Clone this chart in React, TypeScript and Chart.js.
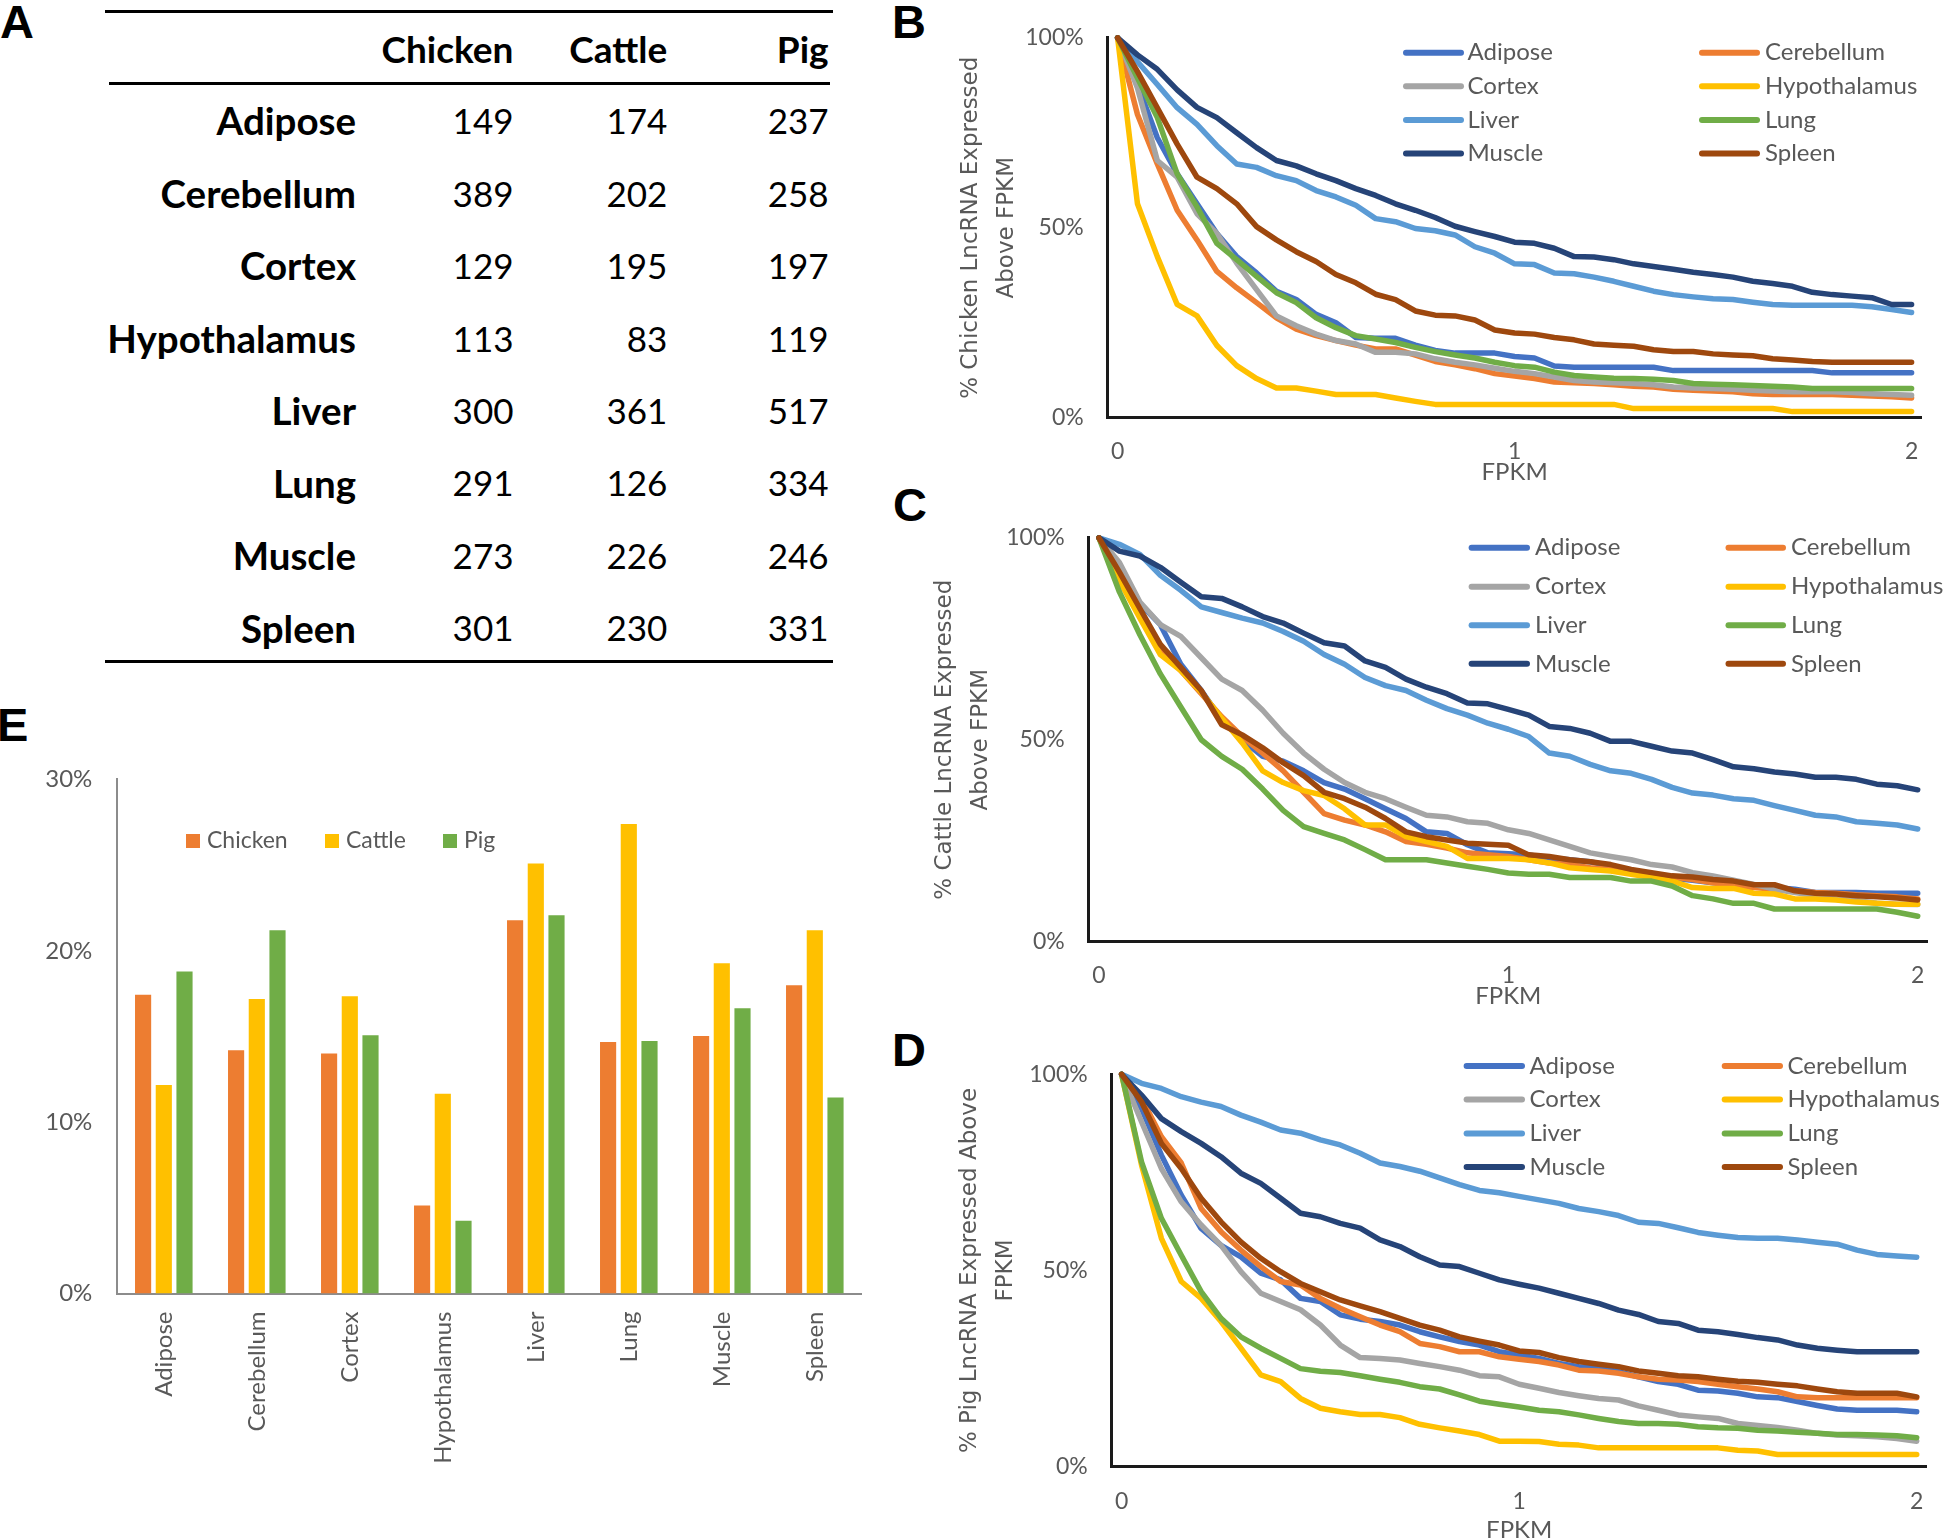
import React, { useEffect, useRef } from 'react';
import { Chart, registerables } from 'chart.js';

Chart.register(...registerables);

// ---------------- data ----------------
const TISSUES = ['Adipose', 'Cerebellum', 'Cortex', 'Hypothalamus', 'Liver', 'Lung', 'Muscle', 'Spleen'];
const TISSUE_COLORS = ['#4472C4', '#ED7D31', '#A5A5A5', '#FFC000', '#5B9BD5', '#70AD47', '#264478', '#9E480E'];

const FPKM = [0, 0.05, 0.1, 0.15, 0.2, 0.25, 0.3, 0.35, 0.4, 0.45, 0.5, 0.55, 0.6, 0.65, 0.7, 0.75, 0.8, 0.85, 0.9, 0.95, 1,
  1.05, 1.1, 1.15, 1.2, 1.25, 1.3, 1.35, 1.4, 1.45, 1.5, 1.55, 1.6, 1.65, 1.7, 1.75, 1.8, 1.85, 1.9, 1.95, 2];
const X_TICKS = [0, 1, 2];
const Y_TICKS_LINE = [0, 50, 100];
const Y_TICKS_BAR = [0, 10, 20, 30];

// Table (A)
const TABLE_SPECIES = ['Chicken', 'Cattle', 'Pig'];
const TABLE_CHICKEN = [149, 389, 129, 113, 300, 291, 273, 301];
const TABLE_CATTLE = [174, 202, 195, 83, 361, 126, 226, 230];
const TABLE_PIG = [237, 258, 197, 119, 517, 334, 246, 331];

// Chicken (B)
const B_ADIPOSE = [100, 87.7, 73.7, 64.2, 56.3, 48.5, 42.4, 38.1, 33.3, 31.1, 27.2, 25, 21.1, 20.9, 20.9, 19.1, 17.7, 17, 17, 17, 16.1, 15.7, 13.6, 13.3, 13.3, 13.3, 13.3, 13.3, 12.4, 12.4, 12.4, 12.4, 12.4, 12.4, 12.4, 12.4, 11.8, 11.8, 11.8, 11.8, 11.8];
const B_CEREBELLUM = [100, 79.8, 66.8, 54.6, 46.8, 38.5, 34.2, 30.3, 26.3, 23.3, 21.6, 20.3, 19.1, 18.1, 18.1, 16.5, 14.8, 13.9, 12.9, 11.6, 11, 10.3, 9.4, 9.2, 9, 8.7, 8.3, 8.1, 7.5, 7.2, 7, 6.8, 6.3, 6.1, 6.1, 6.1, 6.1, 5.9, 5.7, 5.5, 5.2];
const B_CORTEX = [100, 86.8, 67.7, 63.3, 53.7, 48.5, 40.7, 33.7, 26.8, 24.2, 22, 20.3, 19.4, 17.2, 17.2, 16.8, 15.5, 14.6, 13.9, 13, 12.2, 11.6, 10.7, 9.8, 9.4, 9.2, 9, 8.7, 8.1, 7.8, 7.7, 7.5, 7.2, 7, 6.8, 6.8, 6.8, 6.6, 6.3, 6.1, 5.9];
const B_HYPOTHALAMUS = [100, 56.3, 42.4, 29.8, 26.8, 19, 13.7, 10.3, 7.8, 7.8, 7, 6.1, 6.1, 6.1, 5.2, 4.3, 3.5, 3.5, 3.5, 3.5, 3.5, 3.5, 3.5, 3.5, 3.5, 3.5, 2.4, 2.4, 2.4, 2.4, 2.4, 2.4, 2.4, 2.4, 1.6, 1.6, 1.6, 1.6, 1.6, 1.6, 1.6];
const B_LIVER = [100, 93.7, 87.7, 81.6, 77.2, 71.6, 66.8, 65.9, 63.7, 62.4, 59.8, 58.1, 55.9, 52.4, 51.6, 49.8, 49.2, 48.1, 45, 43.3, 40.5, 40.3, 38.1, 37.9, 37, 35.9, 34.6, 33.3, 32.4, 31.8, 31.3, 31.1, 30.4, 29.8, 29.6, 29.6, 29.6, 29.6, 29.2, 28.5, 27.7];
const B_LUNG = [100, 89.4, 79, 64.2, 55.5, 45.9, 41.6, 37.2, 32.9, 30.3, 26.3, 23.7, 21.6, 20.7, 19.8, 18.5, 17.4, 16.5, 15.7, 14.6, 13.7, 13.3, 12, 11.1, 10.7, 10.4, 10.3, 10.1, 9.8, 9, 8.8, 8.7, 8.5, 8.3, 8.1, 7.7, 7.7, 7.7, 7.7, 7.7, 7.7];
const B_MUSCLE = [100, 95.5, 91.7, 86.3, 81.7, 79, 75, 71.1, 67.7, 66.3, 64.2, 62.4, 60.3, 58.5, 56.3, 54.6, 52.7, 50.4, 49, 47.7, 46.2, 45.9, 44.6, 42.4, 42.3, 41.6, 40.5, 39.8, 39.1, 38.3, 37.7, 37, 35.9, 35.3, 34.6, 33, 32.4, 32, 31.6, 29.8, 29.8];
const B_SPLEEN = [100, 91.1, 81.6, 72, 63.3, 60.3, 56.3, 50.3, 46.8, 43.7, 41.1, 37.7, 35.5, 32.5, 31.1, 28.1, 27, 26.8, 25.7, 23.1, 22.3, 22, 21.1, 20.5, 19.4, 19.1, 18.8, 17.9, 17.4, 17.4, 16.8, 16.5, 16.3, 15.5, 15.2, 14.8, 14.6, 14.6, 14.6, 14.6, 14.6];

// Cattle (C)
const C_ADIPOSE = [100, 92.3, 83.7, 78.5, 68.7, 62.2, 54.9, 50, 45.9, 44.7, 42.3, 39.4, 37.8, 35.4, 32.9, 30.5, 27.2, 26.8, 24, 22, 21.8, 21.5, 20.7, 20.3, 19.8, 18.7, 17.6, 16.7, 15.7, 15.2, 14.6, 14.4, 13.8, 13.4, 13, 12.2, 12.2, 12.2, 12, 12, 12];
const C_CEREBELLUM = [100, 89.8, 80.9, 72.8, 67.1, 61.4, 55.7, 50.8, 46.7, 42.3, 37, 31.7, 30.1, 28.9, 27.2, 24.8, 24.1, 23.2, 22, 21.5, 21.1, 20.3, 19.5, 19.1, 18.3, 17.9, 17.1, 16.7, 16, 15.4, 14.6, 13.8, 13.4, 13, 12.6, 12.2, 12, 11.6, 11.4, 11.1, 10.6];
const C_CORTEX = [100, 93.9, 84.1, 78.5, 75.6, 70.3, 65, 62.2, 57.3, 51.6, 46.7, 42.7, 39.4, 37, 35.4, 33.3, 31.3, 30.9, 29.7, 29.3, 27.7, 26.8, 25.2, 23.6, 22, 21.1, 20.3, 19.1, 18.5, 17.1, 16.3, 15.2, 14.2, 13, 12.2, 11.4, 10.6, 10.2, 9.5, 9.3, 9.2];
const C_HYPOTHALAMUS = [100, 89.4, 80.1, 71.1, 67.1, 61.8, 55.3, 49.2, 42.3, 39.4, 37.4, 36.2, 32.9, 28.9, 28.9, 26, 24.8, 23.6, 20.6, 20.6, 20.6, 20.3, 19.5, 18.3, 17.9, 17.5, 16.7, 15.9, 15, 13.4, 13.2, 13.2, 12, 11.8, 10.6, 10.6, 10.3, 9.8, 9.5, 9.3, 9.3];
const C_LIVER = [100, 98.4, 95.9, 90.7, 87, 82.9, 81.5, 80.1, 78.9, 76.8, 74.4, 71.1, 68.7, 65.4, 63.4, 62.2, 59.8, 57.7, 56.1, 54.1, 52.6, 50.8, 46.7, 45.9, 43.9, 42.3, 41.7, 40.2, 38.2, 36.8, 36.3, 35.4, 35, 33.7, 32.5, 31.3, 30.9, 29.7, 29.3, 28.9, 27.9];
const C_LUNG = [100, 86.6, 76, 66.3, 58.1, 50, 45.9, 42.7, 37.8, 32.5, 28.5, 26.8, 25.2, 22.8, 20.3, 20.3, 20.3, 19.5, 18.7, 17.9, 17, 16.7, 16.7, 15.9, 15.9, 15.9, 15, 15, 13.8, 11.4, 10.6, 9.5, 9.5, 8.1, 8.1, 8.1, 8.1, 8.1, 8.1, 7.3, 6.3];
const C_MUSCLE = [100, 96.7, 95.5, 92.7, 89, 85.4, 85, 82.9, 80.5, 78.9, 76.4, 74, 73.2, 69.5, 67.9, 65, 63, 61.4, 59.1, 58.9, 57.5, 56.1, 53.3, 52.8, 51.6, 49.6, 49.6, 48.4, 47.2, 46.7, 45.1, 43.3, 42.8, 42, 41.5, 40.7, 40.7, 40.2, 39, 38.6, 37.6];
const C_SPLEEN = [100, 91.5, 82.5, 73.6, 67.9, 62.2, 53.7, 51.2, 48, 44.3, 41.1, 37, 35.4, 33.3, 30.5, 27.2, 26, 25.2, 24.4, 24.1, 23.9, 21.5, 21.1, 20.3, 19.8, 19.1, 17.9, 17.1, 16.3, 16, 15.4, 15, 14.1, 14.1, 12.6, 12, 11.8, 11.4, 11.1, 10.8, 10.3];

// Pig (D)
const D_ADIPOSE = [100, 91.3, 79.4, 69.2, 60.7, 56.4, 53.5, 49.3, 47.6, 42.9, 42.1, 38.7, 37.6, 37, 36.1, 34.4, 33.1, 31.9, 31, 29.3, 28.5, 27.6, 26.3, 25.5, 25.1, 24.2, 22.9, 21.7, 21, 19.5, 19.3, 18.7, 17.8, 17.6, 16.6, 15.6, 14.7, 14.4, 14.4, 14.4, 14];
const D_CEREBELLUM = [100, 93.9, 84.1, 77.4, 65.8, 59.9, 55.2, 51, 47.2, 46.3, 42.9, 40.4, 38.2, 36.1, 34.4, 31.4, 30.6, 29.3, 29.3, 28, 27.4, 26.8, 25.9, 24.6, 24.4, 23.8, 22.9, 22.3, 22.1, 21.7, 21, 20.4, 19.8, 19.1, 17.8, 17.6, 17.6, 17.6, 17.6, 17.6, 17.6];
const D_CORTEX = [100, 87.9, 76, 67.5, 61.6, 56.4, 49.7, 44.2, 42.1, 40, 36.1, 31, 27.8, 27.6, 27.2, 26.3, 25.5, 24.6, 23.2, 22.9, 21, 20, 18.9, 18.1, 17.4, 17, 15.5, 14.4, 13.2, 12.7, 12.3, 11, 10.5, 10, 9.3, 8.5, 8.1, 7.9, 7.6, 7.2, 6.5];
const D_HYPOTHALAMUS = [100, 76.9, 58.2, 47.2, 42.9, 37, 30.2, 23.4, 21.7, 17.4, 14.9, 14, 13.3, 13.3, 12.5, 10.8, 9.9, 9.1, 8.2, 6.5, 6.5, 6.4, 5.7, 5.5, 4.8, 4.8, 4.8, 4.8, 4.8, 4.8, 4.8, 4.2, 4, 3.1, 3.1, 3.1, 3.1, 3.1, 3.1, 3.1, 3.1];
const D_LIVER = [100, 97.7, 96.4, 94.3, 92.9, 91.8, 89.6, 87.8, 85.8, 85, 83.3, 82, 79.9, 77.4, 76.5, 75.3, 73.6, 71.9, 70.4, 69.8, 68.9, 68, 67.1, 65.8, 65, 64, 62.3, 62, 60.9, 59.7, 59, 58.4, 58.2, 58.2, 57.8, 57.2, 56.7, 55.2, 54.1, 53.7, 53.4];
const D_LUNG = [100, 77.7, 63.3, 53.9, 44.6, 37.8, 33.1, 30.2, 27.6, 25, 24.3, 24, 23.2, 22.3, 21.5, 20.4, 19.8, 18.3, 16.7, 15.9, 15.2, 14.4, 14, 13.2, 12.3, 11.5, 11, 11, 10.8, 10.2, 9.9, 9.8, 9.3, 9.1, 8.8, 8.5, 8.2, 8.2, 8.1, 7.9, 7.4];
const D_MUSCLE = [100, 94.7, 88.7, 85.4, 82.4, 79, 74.8, 72.2, 68.4, 64.6, 63.7, 62, 60.8, 57.8, 56.1, 53.5, 51.4, 51, 49.3, 47.6, 46.5, 45.5, 44.2, 42.9, 41.6, 39.9, 38.8, 37, 36.5, 34.8, 34.4, 33.7, 32.9, 32.3, 31, 30.2, 29.7, 29.3, 29.3, 29.3, 29.3];
const D_SPLEEN = [100, 93, 82.4, 76, 68.4, 62.4, 57.3, 53.1, 49.7, 46.7, 44.6, 42.5, 41, 39.5, 37.8, 36.1, 34.8, 33.1, 32, 31, 29.5, 29.1, 27.8, 26.8, 26.1, 25.5, 24.4, 23.8, 23.2, 22.9, 22.3, 21.8, 21.5, 21, 20.6, 19.8, 19.1, 18.7, 18.7, 18.7, 17.8];

// Bars (E)
const BAR_SPECIES = ['Chicken', 'Cattle', 'Pig'];
const BAR_COLORS = ['#ED7D31', '#FFC000', '#70AD47'];
const BAR_CHICKEN = [17.44, 14.2, 14.0, 5.14, 21.78, 14.68, 15.03, 17.99];
const BAR_CATTLE = [12.17, 17.19, 17.35, 11.66, 25.09, 27.4, 19.27, 21.2];
const BAR_PIG = [18.79, 21.2, 15.07, 4.24, 22.07, 14.74, 16.64, 11.44];

// ---------------- layout ----------------
const TICK_COLOR = '#595959';
const AXIS_COLOR = '#1a1a1a';

type Geom = {
  left: number; top: number; width: number; height: number;
  padTop: number; padRight: number; yW: number; xH: number;
  xTickPad: number; xTitlePad: number; yTitlePad: number;
  legRows: number[]; legCols: number[][];
};

const B_GEOM: Geom = {
  left: 900, top: 0, width: 1045, height: 500, padTop: 34.7, padRight: 23.5, yW: 207.7, xH: 82.3,
  xTickPad: 20, xTitlePad: 13, yTitlePad: 53,
  legRows: [52.7, 86.2, 119.9, 153.5], legCols: [[1403, 1464, 1467.5], [1699, 1760, 1765]],
};
const C_GEOM: Geom = {
  left: 880, top: 500, width: 1065, height: 530, padTop: 31.7, padRight: 9.7, yW: 208.7, xH: 88.3,
  xTickPad: 20.5, xTitlePad: 19.6, yTitlePad: 47,
  legRows: [547.7, 586.7, 625.2, 663.8], legCols: [[1468.6, 1530, 1535], [1725.5, 1786, 1791]],
};
const D_GEOM: Geom = {
  left: 900, top: 1030, width: 1045, height: 510, padTop: 44.3, padRight: 9.2, yW: 211.7, xH: 73.3,
  xTickPad: 21.5, xTitlePad: -5, yTitlePad: 52,
  legRows: [1066, 1099.5, 1133.5, 1167], legCols: [[1463.6, 1525, 1529.5], [1721.7, 1783, 1787.5]],
};

function makeLineConfig(series: number[][], yTitle: string[], g: Geom): any {
  const legendPlugin = {
    id: 'gridLegend',
    afterDraw(chart: any) {
      const ctx = chart.ctx;
      ctx.save();
      chart.data.datasets.forEach((ds: any, i: number) => {
        const col = g.legCols[i % 2];
        const y = g.legRows[Math.floor(i / 2)] - g.top;
        ctx.strokeStyle = ds.borderColor;
        ctx.lineWidth = 6;
        ctx.lineCap = 'round';
        ctx.beginPath();
        ctx.moveTo(col[0] - g.left + 3, y);
        ctx.lineTo(col[1] - g.left - 3, y);
        ctx.stroke();
        ctx.fillStyle = TICK_COLOR;
        ctx.font = '24px Lato';
        ctx.textAlign = 'left';
        ctx.textBaseline = 'middle';
        ctx.fillText(ds.label, col[2] - g.left, y);
      });
      ctx.restore();
    },
  };
  return {
    type: 'line',
    data: {
      datasets: series.map((vals, i) => ({
        label: TISSUES[i],
        data: vals.map((v, k) => ({ x: FPKM[k], y: v })),
        borderColor: TISSUE_COLORS[i],
        backgroundColor: TISSUE_COLORS[i],
        borderWidth: 5.5,
        pointRadius: 0,
        tension: 0,
        borderJoinStyle: 'round',
        borderCapStyle: 'round',
        order: 7 - i,
        clip: 6,
      })),
    },
    options: {
      animation: false,
      responsive: false,
      layout: { padding: { left: 0, top: g.padTop, right: g.padRight, bottom: 0 } },
      plugins: { legend: { display: false }, tooltip: { enabled: false } },
      scales: {
        x: {
          type: 'linear', min: -0.025, max: 2.025,
          afterBuildTicks: (s: any) => { s.ticks = X_TICKS.map((v) => ({ value: v })); },
          afterFit: (s: any) => { s.height = g.xH; },
          grid: { display: false, drawTicks: false },
          border: { display: true, color: AXIS_COLOR, width: 3 },
          ticks: { padding: g.xTickPad, color: TICK_COLOR, font: { family: 'Lato', size: 23 }, callback: (v: any) => String(v) },
          title: { display: true, text: 'FPKM', color: TICK_COLOR, font: { family: 'Lato', size: 24 }, padding: { top: 0, bottom: g.xTitlePad } },
        },
        y: {
          type: 'linear', min: 0, max: 100,
          afterBuildTicks: (s: any) => { s.ticks = Y_TICKS_LINE.map((v) => ({ value: v })); },
          afterFit: (s: any) => { s.width = g.yW; },
          grid: { display: false, drawTicks: false },
          border: { display: true, color: AXIS_COLOR, width: 3 },
          ticks: { padding: 24, color: TICK_COLOR, font: { family: 'Lato', size: 23 }, callback: (v: any) => v + '%' },
          title: { display: true, text: yTitle, color: TICK_COLOR, font: { family: 'DejaVu Sans', size: 23, lineHeight: 36 / 23 }, padding: { top: g.yTitlePad, bottom: 0 } },
        },
      },
    },
    plugins: [legendPlugin],
  };
}

function makeBarConfig(): any {
  const legendPlugin = {
    id: 'barLegend',
    afterDraw(chart: any) {
      const ctx = chart.ctx;
      const items = [[186, 207], [325, 346], [443, 464]];
      const cy = 841 - 740;
      ctx.save();
      chart.data.datasets.forEach((ds: any, i: number) => {
        ctx.fillStyle = ds.backgroundColor;
        ctx.fillRect(items[i][0], cy - 7, 14, 14);
        ctx.fillStyle = TICK_COLOR;
        ctx.font = '23px Lato';
        ctx.textAlign = 'left';
        ctx.textBaseline = 'middle';
        ctx.fillText(ds.label, items[i][1], cy);
      });
      ctx.restore();
    },
  };
  const values = [BAR_CHICKEN, BAR_CATTLE, BAR_PIG];
  return {
    type: 'bar',
    data: {
      labels: TISSUES,
      datasets: BAR_SPECIES.map((s, i) => ({
        label: s, data: values[i], backgroundColor: BAR_COLORS[i],
        categoryPercentage: 0.668, barPercentage: 0.78,
      })),
    },
    options: {
      animation: false,
      responsive: false,
      layout: { padding: { left: 0, top: 39, right: 18.7, bottom: 0 } },
      plugins: { legend: { display: false }, tooltip: { enabled: false } },
      scales: {
        x: {
          afterFit: (s: any) => { s.height = 246.5; },
          grid: { display: false, drawTicks: false },
          border: { display: true, color: '#8c8c8c', width: 2 },
          ticks: { minRotation: 90, maxRotation: 90, autoSkip: false, padding: 18, color: TICK_COLOR, font: { family: 'Lato', size: 24 } },
        },
        y: {
          min: 0, max: 30,
          afterBuildTicks: (s: any) => { s.ticks = Y_TICKS_BAR.map((v) => ({ value: v })); },
          afterFit: (s: any) => { s.width = 117.3; },
          grid: { display: false, drawTicks: false },
          border: { display: true, color: '#8c8c8c', width: 2 },
          ticks: { padding: 25, color: TICK_COLOR, font: { family: 'Lato', size: 24 }, callback: (v: any) => v + '%' },
        },
      },
    },
    plugins: [legendPlugin],
  };
}

function ChartCanvas({ left, top, width, height, makeConfig }: any) {
  const ref = useRef<HTMLCanvasElement>(null);
  useEffect(() => {
    const chart = new Chart(ref.current as HTMLCanvasElement, makeConfig());
    return () => chart.destroy();
  }, []);
  return (
    <canvas ref={ref} width={width} height={height}
      style={{ position: 'absolute', left, top, width, height, display: 'block' }} />
  );
}

function Txt({ x, cy, size, bold, children }: any) {
  return (
    <div style={{
      position: 'absolute', left: x - 500, width: 500, top: cy - 0.529 * size, height: size,
      lineHeight: size + 'px', fontSize: size, fontFamily: 'Lato', fontWeight: bold ? 700 : 400,
      textAlign: 'right', whiteSpace: 'nowrap', color: '#000',
    }}>{children}</div>
  );
}

function Letter({ x, capTop, children }: any) {
  return (
    <div style={{
      position: 'absolute', left: x, top: capTop - 6.1, height: 47, lineHeight: '47px', fontSize: 47,
      fontFamily: '"Liberation Sans", Arial, sans-serif', fontWeight: 700, color: '#000',
    }}>{children}</div>
  );
}

function Rule({ x1, x2, y }: any) {
  return <div style={{ position: 'absolute', left: x1, width: x2 - x1, top: y - 1.5, height: 3, background: '#000' }} />;
}

export default function App() {
  const colX = [513.5, 667.3, 828.6];
  const labelX = 356;
  const rowY0 = 121.6;
  const rowStep = 72.48;
  const tableCols = [TABLE_CHICKEN, TABLE_CATTLE, TABLE_PIG];
  return (
    <div style={{ position: 'absolute', left: 0, top: 0, width: 1945, height: 1540, background: '#fff', overflow: 'hidden' }}>
      <Letter x={0} capTop={3.7}>A</Letter>
      <Letter x={892} capTop={3.7}>B</Letter>
      <Letter x={893} capTop={487.5}>C</Letter>
      <Letter x={892} capTop={1032}>D</Letter>
      <Letter x={-3} capTop={707}>E</Letter>

      <Rule x1={105} x2={833} y={11} />
      <Rule x1={109} x2={830} y={83} />
      <Rule x1={105} x2={833} y={661} />
      {TABLE_SPECIES.map((s, j) => (
        <Txt key={s} x={colX[j]} cy={49.6} size={37} bold>{s}</Txt>
      ))}
      {TISSUES.map((t, i) => (
        <React.Fragment key={t}>
          <Txt x={labelX} cy={rowY0 + rowStep * i} size={38.5} bold>{t}</Txt>
          {tableCols.map((col, j) => (
            <Txt key={j} x={colX[j]} cy={rowY0 + rowStep * i} size={35}>{col[i]}</Txt>
          ))}
        </React.Fragment>
      ))}

      <ChartCanvas left={B_GEOM.left} top={B_GEOM.top} width={B_GEOM.width} height={B_GEOM.height}
        makeConfig={() => makeLineConfig([B_ADIPOSE, B_CEREBELLUM, B_CORTEX, B_HYPOTHALAMUS, B_LIVER, B_LUNG, B_MUSCLE, B_SPLEEN],
          ['% Chicken LncRNA Expressed', 'Above FPKM'], B_GEOM)} />
      <ChartCanvas left={C_GEOM.left} top={C_GEOM.top} width={C_GEOM.width} height={C_GEOM.height}
        makeConfig={() => makeLineConfig([C_ADIPOSE, C_CEREBELLUM, C_CORTEX, C_HYPOTHALAMUS, C_LIVER, C_LUNG, C_MUSCLE, C_SPLEEN],
          ['% Cattle LncRNA Expressed', 'Above FPKM'], C_GEOM)} />
      <ChartCanvas left={D_GEOM.left} top={D_GEOM.top} width={D_GEOM.width} height={D_GEOM.height}
        makeConfig={() => makeLineConfig([D_ADIPOSE, D_CEREBELLUM, D_CORTEX, D_HYPOTHALAMUS, D_LIVER, D_LUNG, D_MUSCLE, D_SPLEEN],
          ['% Pig LncRNA Expressed Above', 'FPKM'], D_GEOM)} />
      <ChartCanvas left={0} top={740} width={880} height={800} makeConfig={makeBarConfig} />
    </div>
  );
}
